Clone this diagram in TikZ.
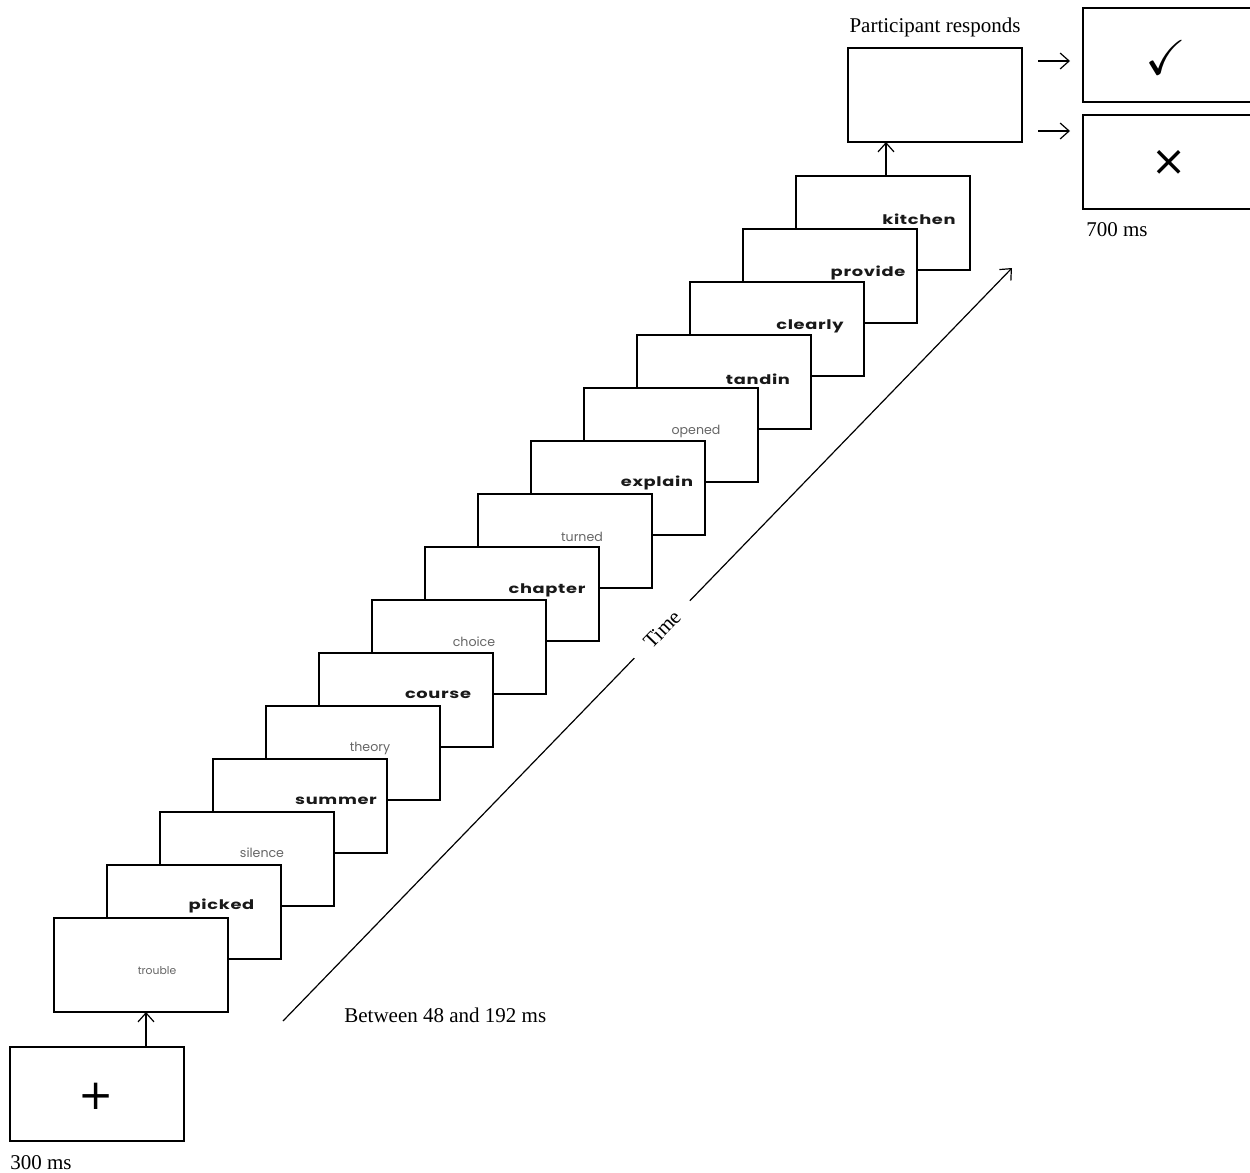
\documentclass[tikz,border=0pt]{standalone}
\usepackage{fontspec}
\usepackage{amssymb}
\setmainfont{Liberation Serif}
\newfontfamily\wordfont{Poppins}[FakeStretch=1.35,LetterSpace=5.0]
\newfontfamily\lightfont{Poppins}
\newfontfamily\symfont{DejaVu Sans}
\usetikzlibrary{arrows.meta}
\tikzset{
  screen/.style={draw, line width=0.65pt, fill=white, minimum width=87pt, minimum height=47pt, inner sep=0pt, outer sep=0pt, anchor=north west},
  boldword/.style={font=\wordfont\bfseries\fontsize{6.6}{8}\selectfont, text=black!90, anchor=mid, inner sep=0pt},
  lightword/.style={font=\lightfont\fontsize{6.3}{8}\selectfont, text=black!60, anchor=mid, inner sep=0pt},
  arr/.style={line width=0.6pt, -{Straight Barb[length=4.5pt,width=8pt]}},
  lbl/.style={font=\fontsize{10.5}{12}\selectfont, inner sep=0pt}
}
\begin{document}
\begin{tikzpicture}[x=0.5pt,y=-0.5pt]
\useasboundingbox (0,0) rectangle (1250,1173);
\clip (0,0) rectangle (1250,1173);
% stacked word screens (back to front)
\foreach \i in {14,13,...,0}{
  \node[screen] (s\i) at ({54+53*\i},{918-53*\i}) {};
}
\foreach \i/\w/\wx/\wy in {14/kitchen/919/220, 13/provide/868/272, 12/clearly/810/325, 11/tandin/758/380, 9/explain/657/482, 7/chapter/547/589, 5/course/438/694, 3/summer/336/800, 1/picked/221.5/905}{
  \node[boldword] (w\i) at (\wx,\wy) {\w};
}
\foreach \i/\w/\wx/\wy in {10/opened/696/430, 8/turned/582/537, 6/choice/474/642, 4/theory/370/747, 2/silence/262/853}{
  \node[lightword] (w\i) at (\wx,\wy) {\w};
}
\node[lightword, font=\lightfont\fontsize{5.4}{7}\selectfont] (w0) at (157,970) {trouble};
% fixation
\node[screen] (fix) at (10,1047) {};
\node[font=\symfont\fontsize{21}{24}\selectfont, inner sep=0pt] (plus) at (96,1096) {+};
\draw[arr] ([xshift=24.5pt]fix.north) -- ([xshift=2.5pt]s0.south);
\node[lbl, anchor=west] (t300) at (10,1163) {300 ms};
% response
\node[screen] (resp) at (848,48) {};
\node[lbl] (tresp) at (935,27) {Participant responds};
\draw[arr] ([xshift=1.5pt]s14.north) -- ([xshift=-24.5pt]resp.south);
\node[screen] (ok) at (1083,8) {};
\node[screen] (no) at (1083,115) {};
\node[inner sep=0pt] (chk) at (1166,58) {\scalebox{2.45}{$\checkmark$}};
\node[font=\symfont\fontsize{21}{24}\selectfont, inner sep=0pt] (crs) at (1169,163) {×};
\coordinate (a1s) at (1038,61);
\coordinate (a1e) at (1070,61);
\coordinate (a2s) at (1038,131);
\coordinate (a2e) at (1070,131);
\draw[arr] (a1s) -- (a1e);
\draw[arr] (a2s) -- (a2e);
\node[lbl, anchor=west] (t700) at (1086,230) {700 ms};
% time axis
\coordinate (tA) at (283,1021);
\coordinate (tB) at (1012,268);
\draw[arr] (tA) -- node[lbl, sloped, pos=0.52, fill=white, inner xsep=9pt, inner ysep=1pt] (ttime) {Time} (tB);
\node[lbl, anchor=west] (tbetw) at (344,1015) {Between 48 and 192 ms};
\end{tikzpicture}
\end{document}
